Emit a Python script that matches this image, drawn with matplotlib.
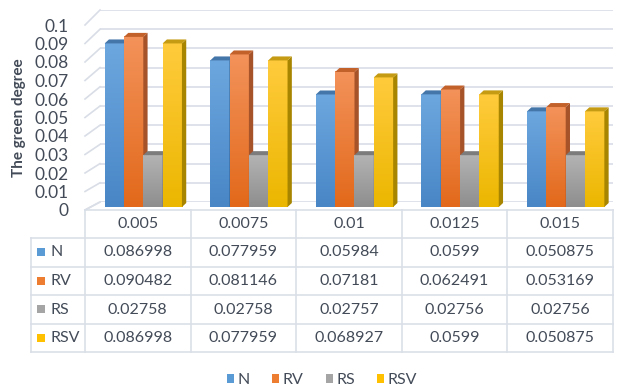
import numpy as np
import matplotlib
matplotlib.use("Agg")
import matplotlib.pyplot as plt
from matplotlib.patches import Polygon, Rectangle, Patch
from matplotlib.lines import Line2D
from matplotlib.colors import LinearSegmentedColormap

plt.rcParams['font.family'] = ['Lato', 'DejaVu Sans']

# ---- data ----
categories = ["0.005", "0.0075", "0.01", "0.0125", "0.015"]
series_names = ["N", "RV", "RS", "RSV"]
N = [0.086998, 0.077959, 0.05984, 0.0599, 0.050875]
RV = [0.090482, 0.081146, 0.07181, 0.062491, 0.053169]
RS = [0.02758, 0.02758, 0.02757, 0.02756, 0.02756]
RSV = [0.086998, 0.077959, 0.068927, 0.0599, 0.050875]
series_values = [N, RV, RS, RSV]
y_ticks = [0, 0.01, 0.02, 0.03, 0.04, 0.05, 0.06, 0.07, 0.08, 0.09, 0.1]
y_tick_labels = ["0", "0.01", "0.02", "0.03", "0.04", "0.05", "0.06",
                 "0.07", "0.08", "0.09", "0.1"]

# ---- styling ----
W, H = 617, 389
TEXT = "#434B58"
GRID = "#D9DDE6"
front_top = ["#6DA7DF", "#F3925A", "#B3B3B3", "#FFCB3C"]
front_bot = ["#4886C6", "#E2691B", "#8E8E8E", "#ECB700"]
side_col = ["#2F5C8A", "#A6532A", "#6E6E6E", "#A88500"]
top_col = ["#4476AA", "#C3612B", "#7C7C7C", "#C49B12"]
legend_col = ["#5B9BD5", "#ED7D31", "#A5A5A5", "#FFC000"]

fig = plt.figure(figsize=(W / 100, H / 100), dpi=100)
fig.patch.set_facecolor("white")


def px_rect(x0, y_top, x1, y_bot):
    return [x0 / W, 1 - y_bot / H, (x1 - x0) / W, (y_bot - y_top) / H]


def fig_xy(px, py):
    return px / W, 1 - py / H


# back wall with horizontal gridlines
ax_wall = fig.add_axes(px_rect(100, 10, 613, 202))
ax_wall.set_ylim(0, 0.1)
ax_wall.set_xlim(0, 1)
ax_wall.set_yticks(y_ticks)
ax_wall.yaxis.grid(True, color=GRID, lw=1.2)
ax_wall.tick_params(left=False, labelleft=False, bottom=False, labelbottom=False)
for s in ax_wall.spines.values():
    s.set_visible(False)
ax_wall.patch.set_alpha(0)

# front-left edge carrying the value labels
ax_tick = fig.add_axes(px_rect(85, 25, 86, 210))
ax_tick.set_ylim(0, 0.1)
ax_tick.set_yticks(y_ticks)
ax_tick.set_yticklabels(y_tick_labels)
ax_tick.tick_params(axis="y", length=0, pad=12, labelsize=12.5, labelcolor=TEXT)
ax_tick.tick_params(bottom=False, labelbottom=False)
for s in ax_tick.spines.values():
    s.set_visible(False)
ax_tick.patch.set_alpha(0)

# side wall: connect front edge to back wall for each gridline
inv = fig.transFigure.inverted()
for v in y_ticks:
    p0 = inv.transform(ax_tick.transData.transform((0, v)))
    p1 = inv.transform(ax_wall.transData.transform((0, v)))
    fig.add_artist(Line2D([p0[0], p1[0]], [p0[1], p1[1]], color=GRID, lw=1.2,
                          transform=fig.transFigure))

# plane of the column fronts
ax = fig.add_axes(px_rect(85, 19, 613, 207))
ax.set_xlim(-0.5, len(categories) - 0.5)
ax.set_ylim(0, 0.1)
ax.axis("off")
ax.patch.set_alpha(0)

bar_w = 0.183
shift = 0.052
dx = 4.3 / 105.6          # column depth, x
dy = 4.0 / 1880.0         # column depth, y
grad = np.linspace(1, 0, 64).reshape(-1, 1)

for i in range(len(categories)):
    for j, vals in enumerate(series_values):
        v = vals[i]
        x0 = i + shift + (j - 2) * bar_w
        x1 = x0 + bar_w
        cmap = LinearSegmentedColormap.from_list("g", [front_bot[j], front_top[j]])
        ax.imshow(grad, extent=[x0, x1, 0, v], aspect="auto", cmap=cmap,
                  vmin=0, vmax=1, zorder=3 + i * 10 + j * 2, interpolation="bilinear")
        side = Polygon([(x1, 0), (x1, v), (x1 + dx, v + dy), (x1 + dx, dy)],
                       closed=True, facecolor=side_col[j], edgecolor="none",
                       zorder=3 + i * 10 + j * 2 + 0.5)
        top = Polygon([(x0, v), (x1, v), (x1 + dx, v + dy), (x0 + dx, v + dy)],
                      closed=True, facecolor=top_col[j], edgecolor="none",
                      zorder=3 + i * 10 + j * 2 + 0.6)
        ax.add_patch(side)
        ax.add_patch(top)
ax.set_xlim(-0.5, len(categories) - 0.5)
ax.set_ylim(0, 0.1)

# ---- data table ----
col_edges = [inv.transform(ax.transData.transform((e, 0)))[0]
             for e in np.arange(-0.5, len(categories), 1.0)]
row_edges_px = [210, 238, 267, 295, 324, 352]
row_edges = [fig_xy(0, r)[1] for r in row_edges_px]
left_hdr = 31 / W
TBL = "#DADFE7"


def fline(xs, ys):
    fig.add_artist(Line2D(xs, ys, color=TBL, lw=1.2, transform=fig.transFigure))


# floor edge / table top and floor depth line
fline([col_edges[0], col_edges[-1]], [row_edges[0], row_edges[0]])
p0 = fig_xy(85, 210)
p1 = inv.transform(ax_wall.transData.transform((0, 0)))
fline([p0[0], p1[0]], [p0[1], p1[1]])
for r in row_edges[1:]:
    fline([left_hdr, col_edges[-1]], [r, r])
for c in col_edges:
    fline([c, c], [row_edges[0], row_edges[-1]])
fline([left_hdr, left_hdr], [row_edges[1], row_edges[-1]])

for i, cat in enumerate(categories):
    cx = (col_edges[i] + col_edges[i + 1]) / 2
    cy = (row_edges[0] + row_edges[1]) / 2
    fig.text(cx, cy, cat, ha="center", va="center", fontsize=11.5, color=TEXT)

for j, (name, vals) in enumerate(zip(series_names, series_values)):
    cy = (row_edges[j + 1] + row_edges[j + 2]) / 2
    fig.add_artist(Rectangle((37 / W, cy - 3.5 / H), 8 / W, 8 / H,
                             facecolor=legend_col[j], edgecolor="none",
                             transform=fig.transFigure))
    fig.text(50 / W, cy, name, ha="left", va="center", fontsize=11.5, color=TEXT)
    for i, v in enumerate(vals):
        cx = (col_edges[i] + col_edges[i + 1]) / 2
        fig.text(cx, cy, f"{v:g}", ha="center", va="center", fontsize=11.5,
                 color=TEXT)

# ---- axis title ----
fig.text(19 / W, 1 - 118 / H, "The green degree", rotation=90, ha="center",
         va="center", fontsize=11, fontweight="bold", color=TEXT)

# ---- legend ----
handles = [Patch(facecolor=c, edgecolor="none") for c in legend_col]
fig.legend(handles, series_names, loc="center", bbox_to_anchor=(322 / W, 1 - 380 / H),
           ncol=4, frameon=False, fontsize=11.5, handlelength=0.45, handleheight=0.45,
           handletextpad=0.2, columnspacing=1.4, labelcolor=TEXT)

fig.savefig("out.png", dpi=100, facecolor="white")
